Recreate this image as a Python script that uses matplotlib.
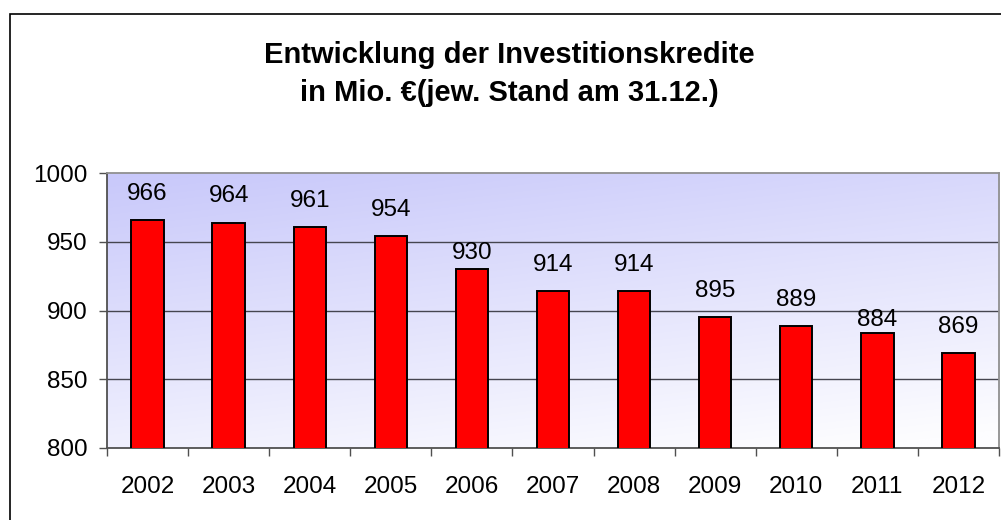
import matplotlib
matplotlib.use("Agg")
import matplotlib.pyplot as plt
import numpy as np
from matplotlib.patches import Rectangle

years = ["2002", "2003", "2004", "2005", "2006", "2007", "2008", "2009", "2010", "2011", "2012"]
values = [966, 964, 961, 954, 930, 914, 914, 895, 889, 884, 869]
yticks = [800, 850, 900, 950, 1000]
title_lines = ["Entwicklung der Investitionskredite", "in Mio. €(jew. Stand am 31.12.)"]

# label gap above bar (pixels); a few labels sit closer in the original
label_gap_px = {"2006": 10, "2011": 7}
default_gap_px = 20

plt.rcParams['font.family'] = ['Liberation Sans', 'DejaVu Sans']

W, H = 1001, 520
fig = plt.figure(figsize=(W / 100, H / 100), dpi=100)

# outer frame
fig.patches.append(Rectangle((10 / W, -0.01), 1.0, 1 - 14 / H + 0.01, transform=fig.transFigure,
                             fill=False, edgecolor='black', linewidth=1.2))

left, right, top, bottom = 107, 999, 173, 448
ax = fig.add_axes([left / W, 1 - bottom / H, (right - left) / W, (bottom - top) / H])

n = len(years)
x = np.arange(n)

# gradient background (row 0 = top)
gy, gx = np.mgrid[0:1:200j, 0:1:400j]
t = np.clip(0.75 * gy + 0.3 * gx, 0, 1)
c0 = np.array([200, 200, 250]) / 255.0
c1 = np.array([253, 253, 255]) / 255.0
img = c0[None, None, :] * (1 - t[..., None]) + c1[None, None, :] * t[..., None]
ax.imshow(img, extent=[-0.5, n - 0.5, 800, 1000], origin='upper', aspect='auto',
          zorder=0, interpolation='bilinear')
ax.set_xlim(-0.5, n - 0.5)
ax.set_ylim(800, 1000)

for yv in yticks[1:-1]:
    ax.axhline(yv, color='#45454f', linewidth=1.0, zorder=1)

ax.bar(x, values, width=0.4, color='#FF0000', edgecolor='black', linewidth=1.4, zorder=3)
for xi, yr, v in zip(x, years, values):
    gap = label_gap_px.get(yr, default_gap_px)
    ax.annotate(str(v), (xi, v), xytext=(0, gap * 0.72), textcoords='offset points',
                ha='center', va='baseline', fontsize=17.5, zorder=4)

ax.set_yticks(yticks)
ax.set_yticklabels([str(v) for v in yticks], fontsize=17.5)
ax.set_xticks(x)
ax.set_xticklabels(years, fontsize=17.5)
ax.set_xticks(np.arange(-0.5, n, 1.0), minor=True)
ax.tick_params(axis='x', which='major', length=0, pad=20.5)
ax.tick_params(axis='x', which='minor', length=5.5, width=1, color='#505050', direction='out')
ax.tick_params(axis='y', length=5.5, width=1, color='#505050', pad=8.5)
for s in ax.spines.values():
    s.set_color('#909090')
    s.set_linewidth(1.3)
ax.spines['left'].set_color('#505050')
ax.spines['bottom'].set_color('#505050')

fig.text(509 / W, 1 - 63 / H, title_lines[0], ha='center', va='baseline', fontsize=21,
         fontweight='bold')
fig.text(509 / W, 1 - 101 / H, title_lines[1], ha='center', va='baseline', fontsize=21,
         fontweight='bold')

fig.savefig("out.png", dpi=100)
